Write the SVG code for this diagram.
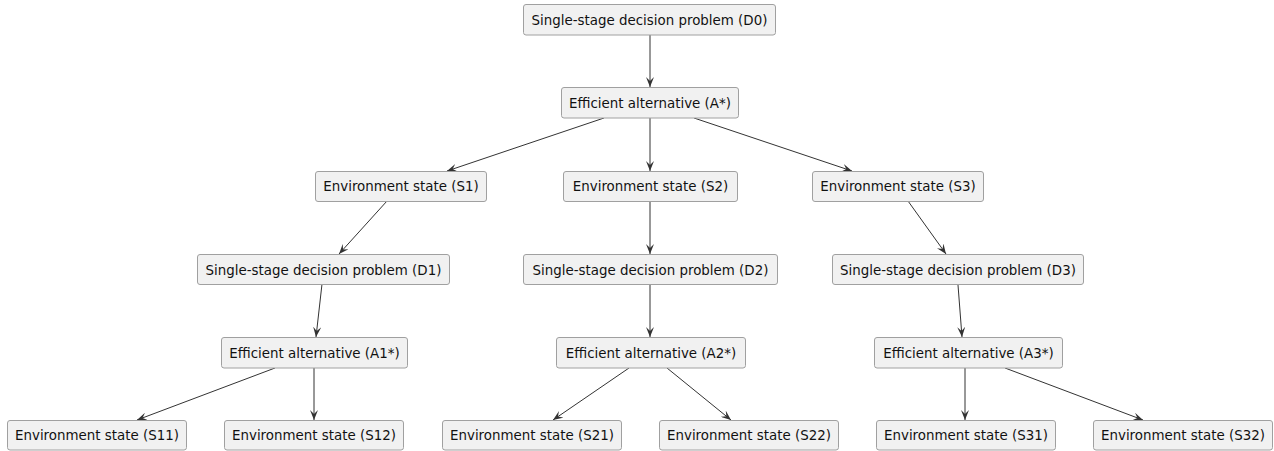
<svg xmlns="http://www.w3.org/2000/svg" width="1274" height="451" viewBox="0 0 1274 451">
<style>
.n rect{fill:#F1F1F1;stroke:#A0A0A0;stroke-width:1}
.n text{font-family:"DejaVu Sans",sans-serif;font-size:13.4px;fill:#111;text-anchor:middle}
.e line{stroke:#333;stroke-width:1;marker-end:url(#ah)}
</style>
<defs>
<marker id="ah" viewBox="0 0 10 8" refX="10" refY="4" markerWidth="10" markerHeight="8" markerUnits="userSpaceOnUse" orient="auto">
<path d="M0,0 L10,4 L0,8 L4,4 Z" fill="#333"/>
</marker>
</defs>
<rect width="1274" height="451" fill="#fff"/>
<g class="e" id="edges">
<line x1="650" y1="35" x2="650" y2="87"/>
<line x1="604" y1="118" x2="447" y2="171"/>
<line x1="650" y1="118" x2="650" y2="171"/>
<line x1="694" y1="118" x2="852" y2="171"/>
<line x1="387" y1="201" x2="339" y2="254"/>
<line x1="650" y1="201" x2="650" y2="254"/>
<line x1="908" y1="201" x2="946" y2="254"/>
<line x1="322" y1="284" x2="316" y2="337"/>
<line x1="650" y1="285" x2="650" y2="337"/>
<line x1="958" y1="285" x2="962" y2="337"/>
<line x1="275" y1="368" x2="137" y2="420"/>
<line x1="314" y1="368" x2="314" y2="420"/>
<line x1="629" y1="368" x2="553" y2="420"/>
<line x1="667" y1="368" x2="731" y2="420"/>
<line x1="965" y1="368" x2="965" y2="420"/>
<line x1="1005" y1="368" x2="1143" y2="420"/>
</g>
<g class="n" id="D0"><rect x="523.5" y="4.5" width="252" height="30.5" rx="2.5"/><text x="649.5" y="24.5">Single-stage decision problem (D0)</text></g>
<g class="n" id="A"><rect x="561.5" y="87.5" width="177" height="30.5" rx="2.5"/><text x="650" y="107.5">Efficient alternative (A*)</text></g>
<g class="n" id="S1"><rect x="315.5" y="171.5" width="171" height="30" rx="2.5"/><text x="401" y="191">Environment state (S1)</text></g>
<g class="n" id="S2"><rect x="563.5" y="171.5" width="174" height="30" rx="2.5"/><text x="650.5" y="191">Environment state (S2)</text></g>
<g class="n" id="S3"><rect x="812.5" y="171.5" width="171" height="30" rx="2.5"/><text x="898" y="191">Environment state (S3)</text></g>
<g class="n" id="D1"><rect x="197.5" y="254.5" width="252" height="30" rx="2.5"/><text x="323.5" y="274.5">Single-stage decision problem (D1)</text></g>
<g class="n" id="D2"><rect x="523.5" y="254.5" width="254" height="30" rx="2.5"/><text x="650.5" y="274.5">Single-stage decision problem (D2)</text></g>
<g class="n" id="D3"><rect x="832.5" y="254.5" width="251" height="30" rx="2.5"/><text x="958" y="274.5">Single-stage decision problem (D3)</text></g>
<g class="n" id="A1"><rect x="221.5" y="337.5" width="186" height="30.5" rx="2.5"/><text x="314.5" y="357.5">Efficient alternative (A1*)</text></g>
<g class="n" id="A2"><rect x="556.5" y="337.5" width="189" height="30.5" rx="2.5"/><text x="651" y="357.5">Efficient alternative (A2*)</text></g>
<g class="n" id="A3"><rect x="874.5" y="337.5" width="188" height="30.5" rx="2.5"/><text x="968.5" y="357.5">Efficient alternative (A3*)</text></g>
<g class="n" id="S11"><rect x="7.5" y="420.5" width="179" height="29.5" rx="2.5"/><text x="97" y="440">Environment state (S11)</text></g>
<g class="n" id="S12"><rect x="224.5" y="420.5" width="179" height="29.5" rx="2.5"/><text x="314" y="440">Environment state (S12)</text></g>
<g class="n" id="S21"><rect x="442.5" y="420.5" width="179" height="29.5" rx="2.5"/><text x="532" y="440">Environment state (S21)</text></g>
<g class="n" id="S22"><rect x="659.5" y="420.5" width="179" height="29.5" rx="2.5"/><text x="749" y="440">Environment state (S22)</text></g>
<g class="n" id="S31"><rect x="876.5" y="420.5" width="179" height="29.5" rx="2.5"/><text x="966" y="440">Environment state (S31)</text></g>
<g class="n" id="S32"><rect x="1093.5" y="420.5" width="179" height="29.5" rx="2.5"/><text x="1183" y="440">Environment state (S32)</text></g>
</svg>
